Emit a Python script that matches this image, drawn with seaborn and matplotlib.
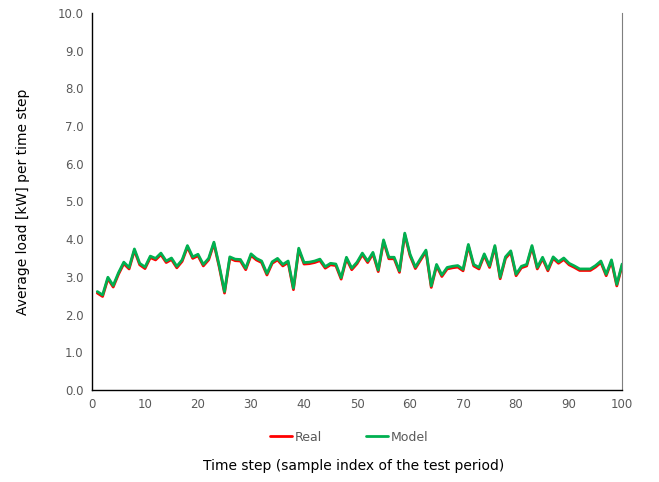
import numpy as np
import pandas as pd
import matplotlib
matplotlib.use("Agg")
import matplotlib.pyplot as plt
import seaborn as sns

# sample index of the test period
steps = list(range(1, 101))

# measured series
real = [
    2.57, 2.48, 2.95, 2.73, 3.07, 3.35, 3.21, 3.70, 3.32, 3.22,
    3.51, 3.45, 3.59, 3.38, 3.46, 3.24, 3.41, 3.79, 3.49, 3.56,
    3.29, 3.45, 3.88, 3.26, 2.57, 3.49, 3.43, 3.42, 3.19, 3.57,
    3.45, 3.38, 3.05, 3.36, 3.45, 3.29, 3.38, 2.66, 3.72, 3.34,
    3.35, 3.38, 3.43, 3.23, 3.32, 3.30, 2.94, 3.48, 3.19, 3.35,
    3.59, 3.38, 3.61, 3.14, 3.94, 3.48, 3.48, 3.12, 4.12, 3.56,
    3.22, 3.45, 3.67, 2.72, 3.29, 3.01, 3.21, 3.24, 3.26, 3.16,
    3.82, 3.29, 3.21, 3.57, 3.25, 3.79, 2.95, 3.49, 3.65, 3.03,
    3.24, 3.29, 3.79, 3.21, 3.48, 3.16, 3.49, 3.36, 3.46, 3.32,
    3.25, 3.17, 3.17, 3.17, 3.26, 3.38, 3.03, 3.41, 2.76, 3.30,
]

# model series
model = [
    2.61, 2.52, 2.99, 2.77, 3.11, 3.39, 3.25, 3.74, 3.36, 3.26,
    3.55, 3.49, 3.63, 3.42, 3.50, 3.28, 3.45, 3.83, 3.53, 3.60,
    3.33, 3.49, 3.92, 3.30, 2.61, 3.53, 3.47, 3.46, 3.23, 3.61,
    3.49, 3.42, 3.09, 3.40, 3.49, 3.33, 3.42, 2.70, 3.76, 3.38,
    3.39, 3.42, 3.47, 3.27, 3.36, 3.34, 2.98, 3.52, 3.23, 3.39,
    3.63, 3.42, 3.65, 3.18, 3.98, 3.52, 3.52, 3.16, 4.16, 3.60,
    3.26, 3.49, 3.71, 2.76, 3.33, 3.05, 3.25, 3.28, 3.30, 3.20,
    3.86, 3.33, 3.25, 3.61, 3.29, 3.83, 2.99, 3.53, 3.69, 3.07,
    3.28, 3.33, 3.83, 3.25, 3.52, 3.20, 3.53, 3.40, 3.50, 3.36,
    3.29, 3.21, 3.21, 3.21, 3.30, 3.42, 3.07, 3.45, 2.80, 3.34,
]

series_names = ["Real", "Model"]
x_ticks = list(range(0, 101, 10))
y_ticks = list(range(0, 11))

df = pd.DataFrame({"step": steps, "real": real, "model": model})

sns.set_theme(style="white")
plt.rcParams["font.family"] = ["DejaVu Sans"]

fig = plt.figure(figsize=(6.59, 4.82), dpi=100)
ax = fig.add_axes([0.1396, 0.191, 0.8044, 0.782])

sns.lineplot(data=df, x="step", y="real", ax=ax, color="#ff0000",
             linewidth=2.0, label=series_names[0])
sns.lineplot(data=df, x="step", y="model", ax=ax, color="#00b050",
             linewidth=2.0, label=series_names[1])

ax.set_xlim(0, 100)
ax.set_ylim(0, 10)
ax.set_xticks(x_ticks)
ax.set_yticks(y_ticks)
ax.set_xticklabels([str(v) for v in x_ticks])
ax.set_yticklabels([f"{v:.1f}" for v in y_ticks])
ax.tick_params(axis="both", length=0, labelsize=8.5, labelcolor="#595959", pad=6)

for side in ["left", "bottom"]:
    ax.spines[side].set_color("#000000")
    ax.spines[side].set_linewidth(1.0)
ax.spines["top"].set_visible(False)
ax.spines["right"].set_color("#7f7f7f")
ax.spines["right"].set_linewidth(0.8)

ax.set_xlabel("")
ax.set_ylabel("Average load [kW] per time step", fontsize=10, color="#000000", labelpad=20)

handles, labels = ax.get_legend_handles_labels()
ax.get_legend().remove()
fig.legend(handles, labels, loc="center", bbox_to_anchor=(0.53, 0.093), ncol=2,
           frameon=False, fontsize=9, handlelength=1.8, handletextpad=0.2,
           columnspacing=3.5, labelcolor="#595959")

fig.text(0.537, 0.033, "Time step (sample index of the test period)",
         ha="center", va="center", fontsize=10, color="#000000")

fig.savefig("out.png", dpi=100)
